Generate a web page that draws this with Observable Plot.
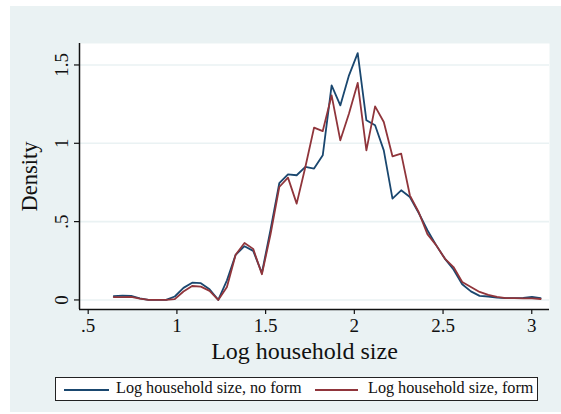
<!DOCTYPE html>
<html>
<head>
<meta charset="utf-8">
<script src="https://cdn.jsdelivr.net/npm/d3@7"></script>
<script src="https://cdn.jsdelivr.net/npm/@observablehq/plot@0.6"></script>
<style>
  html, body { margin: 0; padding: 0; background: #ffffff; }
  #wrap { position: relative; width: 561px; height: 414px; overflow: hidden; font-family: "Liberation Serif", "DejaVu Serif", serif; }
  #panel { position: absolute; left: 10px; top: 6px; width: 551px; height: 406px; background: #eaf2f3; }
  #chart { position: absolute; left: 0; top: 0; }
  #legend { position: absolute; left: 55px; top: 377px; width: 481px; height: 22px; border: 1.5px solid #222; background: #ffffff; }
  .sw { position: absolute; top: 11px; height: 1.6px; }
  .lt { position: absolute; top: 0px; font-size: 16.2px; color: #111; white-space: nowrap; line-height: 21px; }
</style>
</head>
<body>
<div id="wrap">
  <div id="panel"></div>
  <div id="chart"></div>
  <div id="legend"></div>
</div>
<script>
// ---- data ----
const logSize = [0.644,0.693,0.742,0.791,0.840,0.890,0.939,0.988,1.037,1.086,
                 1.135,1.184,1.233,1.282,1.331,1.381,1.430,1.479,1.528,1.577,
                 1.626,1.675,1.724,1.773,1.822,1.872,1.921,1.970,2.019,2.068,
                 2.117,2.166,2.215,2.264,2.313,2.363,2.412,2.461,2.510,2.559,
                 2.608,2.657,2.706,2.755,2.804,2.854,2.903,2.952,3.001,3.050];
const densityNoForm = [0.025,0.027,0.026,0.010,0.000,0.000,0.000,0.022,0.077,0.110,
                       0.107,0.068,0.000,0.125,0.288,0.343,0.313,0.172,0.450,0.745,
                       0.802,0.796,0.849,0.839,0.923,1.370,1.242,1.434,1.576,1.147,
                       1.115,0.955,0.647,0.700,0.657,0.555,0.445,0.350,0.264,0.194,
                       0.100,0.055,0.026,0.022,0.015,0.011,0.011,0.013,0.019,0.011];
const densityForm   = [0.018,0.018,0.020,0.008,0.000,0.000,0.000,0.005,0.054,0.089,
                       0.085,0.058,0.000,0.083,0.288,0.364,0.326,0.164,0.420,0.721,
                       0.781,0.615,0.849,1.100,1.078,1.306,1.019,1.190,1.385,0.955,
                       1.236,1.136,0.917,0.934,0.668,0.560,0.420,0.350,0.264,0.210,
                       0.115,0.083,0.051,0.032,0.019,0.011,0.011,0.010,0.010,0.006];
const seriesNames = ["Log household size, no form", "Log household size, form"];
const seriesColors = ["#1a476f", "#90353b"];
const xTicks = [0.5, 1, 1.5, 2, 2.5, 3];
const xTickLabels = [".5", "1", "1.5", "2", "2.5", "3"];
const yTicks = [0, 0.5, 1, 1.5];
const yTickLabels = ["0", ".5", "1", "1.5"];
const xTitle = "Log household size";
const yTitle = "Density";

// ---- build table ----
const rows = [];
logSize.forEach((x, i) => {
  rows.push({x, y: densityNoForm[i], s: seriesNames[0]});
  rows.push({x, y: densityForm[i], s: seriesNames[1]});
});

const xDom = [0.451, 3.100];
const yDom = [-0.061, 1.637];
const font = "Liberation Serif, DejaVu Serif, serif";

const chart = Plot.plot({
  width: 561,
  height: 370,
  marginLeft: 79,
  marginRight: 12,
  marginTop: 43,
  marginBottom: 61,
  style: {background: "transparent", fontFamily: font, color: "#111", overflow: "visible"},
  x: {domain: xDom, label: null},
  y: {domain: yDom, label: null},
  color: {domain: seriesNames, range: seriesColors},
  marks: [
    Plot.frame({fill: "#ffffff", stroke: null}),
    Plot.gridY(yTicks, {stroke: "#eaf2f3", strokeOpacity: 1, strokeWidth: 1.6}),
    Plot.line(rows.filter(d => d.s === seriesNames[0]), {x: "x", y: "y", stroke: seriesColors[0], strokeWidth: 1.8}),
    Plot.line(rows.filter(d => d.s === seriesNames[1]), {x: "x", y: "y", stroke: seriesColors[1], strokeWidth: 1.8}),
    Plot.ruleX([xDom[0]], {stroke: "#111", strokeWidth: 1.5}),
    Plot.ruleY([yDom[0]], {stroke: "#111", strokeWidth: 1.5}),
    Plot.axisX({ticks: xTicks, tickSize: 5, tickPadding: 4, tickFormat: (d) => xTickLabels[xTicks.indexOf(d)], fontSize: 19, stroke: "#111", strokeWidth: 1.2, label: null}),
    Plot.axisY({ticks: yTicks, tickSize: 5, tickFormat: () => "", stroke: "#111", strokeWidth: 1.2, label: null}),
    Plot.text(yTicks, {y: d => d, text: (d, i) => yTickLabels[i], frameAnchor: "left", dx: -18, rotate: -90, fontSize: 19, fill: "#111", textAnchor: "middle"}),
    Plot.text([yTitle], {frameAnchor: "left", dx: -50, rotate: -90, fontSize: 22.5, fill: "#111", textAnchor: "middle"}),
    Plot.text([xTitle], {frameAnchor: "bottom", dx: -10, dy: 49, fontSize: 24, fill: "#111", textAnchor: "middle"})
  ]
});
document.getElementById("chart").appendChild(chart);

// ---- legend ----
const leg = document.getElementById("legend");
const legPos = [{sw: 8, len: 45, tx: 60}, {sw: 259, len: 43, tx: 312}];
seriesNames.forEach((name, i) => {
  const sw = document.createElement("div");
  sw.className = "sw";
  sw.style.left = legPos[i].sw + "px";
  sw.style.width = legPos[i].len + "px";
  sw.style.background = seriesColors[i];
  leg.appendChild(sw);
  const t = document.createElement("div");
  t.className = "lt";
  t.style.left = legPos[i].tx + "px";
  t.textContent = name;
  leg.appendChild(t);
});
</script>
</body>
</html>
